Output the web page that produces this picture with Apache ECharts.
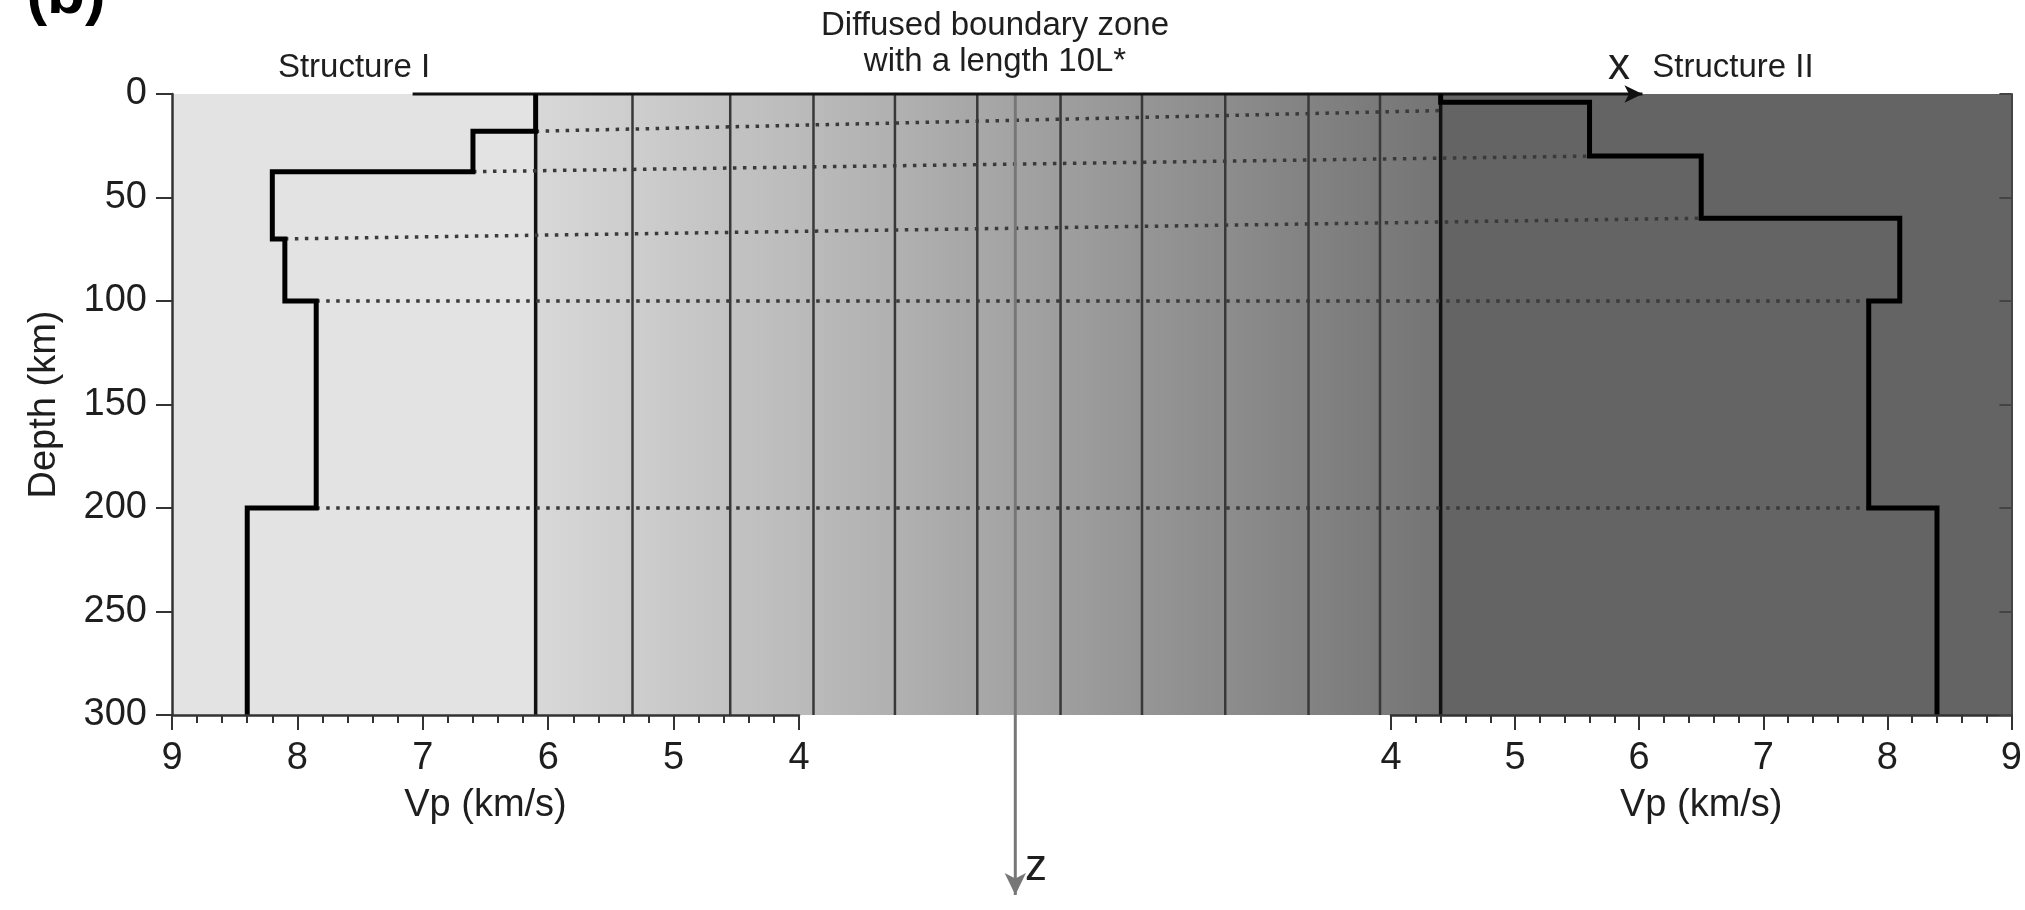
<!DOCTYPE html>
<html>
<head>
<meta charset="utf-8">
<script src="https://cdn.jsdelivr.net/npm/echarts@6/dist/echarts.min.js"></script>
<style>
  html, body { margin: 0; padding: 0; background: #fff; }
  #chart { width: 2025px; height: 910px; }
</style>
</head>
<body>
<div id="chart"></div>
<script>
// depth axis (km) and velocity axes (km/s)
const depthTicks = [0, 50, 100, 150, 200, 250, 300]
const vpTicks = [4, 5, 6, 7, 8, 9]

// Structure I layers: top, bottom (km), Vp (km/s)
const s1Tops = [0, 18, 37.5, 70, 100, 200]
const s1Bottoms = [18, 37.5, 70, 100, 200, 300]
const s1Vp = [6.1, 6.6, 8.2, 8.1, 7.85, 8.4]

// Structure II layers
const s2Tops = [0, 4, 30, 60, 100, 200]
const s2Bottoms = [4, 30, 60, 100, 200, 300]
const s2Vp = [4.4, 5.6, 6.5, 8.1, 7.85, 8.4]

// dotted links between interfaces, [Vp, depth] on each side
const linkLeft = [[6.1, 18], [6.6, 37.5], [8.1, 70], [7.85, 100], [7.85, 200]]
const linkRight = [[4.4, 8], [5.6, 30], [6.5, 60], [7.85, 100], [7.85, 200]]

// diffused zone cell edges, in units of L*
const zoneEdges = [0, 1.07, 2.15, 3.07, 3.97, 4.88, 5.80, 6.70, 7.62, 8.54, 9.33, 10]
const zAxisAt = 5.3
const xArrow = [-1.36, 12.23]
const zArrowEnd = 387

const FONT = "'Liberation Sans', Arial, Helvetica, sans-serif"
const depthMin = depthTicks[0]
const depthMax = depthTicks[depthTicks.length - 1]
const vpMin = vpTicks[0]
const vpMax = vpTicks[vpTicks.length - 1]
const zoneLength = zoneEdges[zoneEdges.length - 1]

// plot box
const plotTop = 94
const plotHeight = 621
const plotLeft = 172
const plotRight = 2016

function stepPoints (tops, bottoms, vp) {
  const pts = []
  tops.forEach((t, i) => {
    pts.push([vp[i], t])
    pts.push([vp[i], bottoms[i]])
  })
  return pts
}

// grey ramp across the zone
function shade (d) {
  const t = Math.max(0, Math.min(1, d / zoneLength))
  const v = Math.round(216 - t * (216 - 116))
  return `rgb(${v},${v},${v})`
}

const axisColor = '#333'
const textColor = '#1e1e1e'

function vpAxis (gridIndex, inverse) {
  return {
    gridIndex: gridIndex,
    type: 'value',
    min: vpMin,
    max: vpMax,
    interval: 1,
    inverse: inverse,
    position: 'bottom',
    z: 6,
    axisLine: { show: true, onZero: false, lineStyle: { color: axisColor, width: 2.5 } },
    axisTick: { show: true, length: 15, lineStyle: { color: axisColor, width: 2 } },
    minorTick: { show: true, splitNumber: 5, length: 8, lineStyle: { color: axisColor, width: 2 } },
    splitLine: { show: false },
    axisLabel: { fontSize: 38, color: textColor, fontFamily: FONT, margin: 25 },
    name: 'Vp (km/s)',
    nameLocation: 'middle',
    nameGap: 72,
    nameTextStyle: { fontSize: 38, color: textColor, fontFamily: FONT }
  }
}

function depthAxis (gridIndex, extra) {
  return Object.assign({
    gridIndex: gridIndex,
    type: 'value',
    min: depthMin,
    max: depthMax,
    interval: 50,
    inverse: true,
    z: 6,
    splitLine: { show: false }
  }, extra)
}

const option = {
  animation: false,
  backgroundColor: '#fff',
  grid: [
    { left: plotLeft, top: plotTop, width: 799 - plotLeft, height: plotHeight },
    { left: 1391, top: plotTop, width: plotRight - 1391, height: plotHeight },
    { left: plotLeft, top: plotTop, width: plotRight - plotLeft, height: plotHeight }
  ],
  xAxis: [
    vpAxis(0, true),
    vpAxis(1, false),
    { gridIndex: 2, type: 'value', min: 0, max: zoneLength, show: false }
  ],
  yAxis: [
    depthAxis(0, {
      position: 'left',
      axisLine: { show: true, onZero: false, lineStyle: { color: axisColor, width: 2.5 } },
      axisTick: { show: true, length: 16, lineStyle: { color: axisColor, width: 2 } },
      axisLabel: { fontSize: 38, color: textColor, fontFamily: FONT, margin: 25 },
      name: 'Depth (km)',
      nameLocation: 'middle',
      nameGap: 108,
      nameRotate: 90,
      nameTextStyle: { fontSize: 38, color: textColor, fontFamily: FONT }
    }),
    depthAxis(1, {
      position: 'right',
      axisLine: { show: true, onZero: false, lineStyle: { color: '#444', width: 2 } },
      axisTick: { show: true, inside: true, length: 12, lineStyle: { color: '#444', width: 2 } },
      axisLabel: { show: false }
    }),
    depthAxis(2, { show: false })
  ],
  series: [
    // light background of structure I
    {
      type: 'custom',
      xAxisIndex: 0,
      yAxisIndex: 0,
      z: 1,
      silent: true,
      data: [[vpMax, s1Vp[0]]],
      renderItem (params, api) {
        const p0 = api.coord([api.value(0), depthMin])
        const p1 = api.coord([api.value(1), depthMax])
        return {
          type: 'rect',
          shape: { x: Math.min(p0[0], p1[0]), y: p0[1], width: Math.abs(p1[0] - p0[0]), height: p1[1] - p0[1] },
          style: { fill: '#e3e3e3' }
        }
      }
    },
    // dark background of structure II
    {
      type: 'custom',
      xAxisIndex: 1,
      yAxisIndex: 1,
      z: 1,
      silent: true,
      data: [[s2Vp[0], vpMax]],
      renderItem (params, api) {
        const p0 = api.coord([api.value(0), depthMin])
        const p1 = api.coord([api.value(1), depthMax])
        return {
          type: 'rect',
          shape: { x: p0[0], y: p0[1], width: p1[0] - p0[0], height: p1[1] - p0[1] },
          style: { fill: '#646464' }
        }
      }
    },
    // diffused zone cells
    {
      type: 'custom',
      xAxisIndex: 2,
      yAxisIndex: 2,
      z: 1,
      silent: true,
      data: zoneEdges.slice(0, -1).map((e, i) => [e, zoneEdges[i + 1]]),
      renderItem (params, api) {
        const a = api.value(0)
        const b = api.value(1)
        const p0 = api.coord([a, depthMin])
        const p1 = api.coord([b, depthMax])
        return {
          type: 'rect',
          shape: { x: p0[0], y: p0[1], width: p1[0] - p0[0] + 0.5, height: p1[1] - p0[1] },
          style: {
            fill: new echarts.graphic.LinearGradient(0, 0, 1, 0, [
              { offset: 0, color: shade(a - 0.08) },
              { offset: 1, color: shade(b + 0.08) }
            ])
          }
        }
      }
    },
    // zone cell edges
    {
      type: 'custom',
      xAxisIndex: 2,
      yAxisIndex: 2,
      z: 2,
      silent: true,
      data: zoneEdges.map(e => [e]),
      renderItem (params, api) {
        const e = api.value(0)
        const p0 = api.coord([e, depthMin])
        const p1 = api.coord([e, depthMax])
        const edge = e === 0 || e === zoneLength
        return {
          type: 'line',
          shape: { x1: p0[0], y1: p0[1], x2: p1[0], y2: p1[1] },
          style: { stroke: edge ? '#111' : '#383838', lineWidth: edge ? 3.5 : 2.5 }
        }
      }
    },
    // z axis arrow
    {
      type: 'line',
      xAxisIndex: 2,
      yAxisIndex: 2,
      z: 4,
      clip: false,
      silent: true,
      lineStyle: { color: '#777', width: 3 },
      itemStyle: { color: '#777' },
      data: [
        { value: [zAxisAt, depthMin], symbol: 'none' },
        { value: [zAxisAt, zArrowEnd], symbol: 'arrow', symbolSize: [16, 22], symbolRotate: 180 }
      ]
    },
    // x axis arrow along the surface
    {
      type: 'line',
      xAxisIndex: 2,
      yAxisIndex: 2,
      z: 5,
      clip: false,
      silent: true,
      lineStyle: { color: '#111', width: 3 },
      itemStyle: { color: '#111' },
      data: [
        { value: [xArrow[0], depthMin], symbol: 'none' },
        { value: [xArrow[1], depthMin], symbol: 'arrow', symbolSize: [13, 18], symbolRotate: -90 }
      ]
    },
    // Structure I profile
    {
      type: 'line',
      xAxisIndex: 0,
      yAxisIndex: 0,
      z: 5,
      symbol: 'none',
      silent: true,
      lineStyle: { color: '#000', width: 5, join: 'miter' },
      data: stepPoints(s1Tops, s1Bottoms, s1Vp)
    },
    // Structure II profile
    {
      type: 'line',
      xAxisIndex: 1,
      yAxisIndex: 1,
      z: 5,
      symbol: 'none',
      silent: true,
      lineStyle: { color: '#000', width: 5, join: 'miter' },
      data: stepPoints(s2Tops, s2Bottoms, s2Vp)
    }
  ]
}

const chart = echarts.init(document.getElementById('chart'))
chart.setOption(option)

// place the zone axis so that 0 and 10L* sit on the two surface velocities
const pxL = chart.convertToPixel({ xAxisIndex: 0 }, s1Vp[0])
const pxR = chart.convertToPixel({ xAxisIndex: 1 }, s2Vp[0])
const unit = (pxR - pxL) / zoneLength

const textStyle = (size, weight) => ({
  font: `${weight || 'normal'} ${size}px ${FONT}`,
  fill: textColor,
  align: 'center',
  verticalAlign: 'middle'
})

const graphics = [
  { type: 'text', x: 66, y: -4, style: Object.assign(textStyle(62, 'bold'), { fill: '#000', text: '(b)' }) },
  { type: 'text', x: 354, y: 68, style: Object.assign(textStyle(33), { text: 'Structure I' }) },
  { type: 'text', x: 1733, y: 68, style: Object.assign(textStyle(33), { text: 'Structure II' }) },
  { type: 'text', x: 995, y: 26, style: Object.assign(textStyle(33), { text: 'Diffused boundary zone' }) },
  { type: 'text', x: 995, y: 62, style: Object.assign(textStyle(33), { text: 'with a length 10L*' }) },
  { type: 'text', x: 1619, y: 67, style: Object.assign(textStyle(44), { text: 'x' }) },
  { type: 'text', x: 1036, y: 868, style: Object.assign(textStyle(44), { text: 'z' }) }
]

linkLeft.forEach((p, i) => {
  const a = chart.convertToPixel({ gridIndex: 0 }, p)
  const b = chart.convertToPixel({ gridIndex: 1 }, linkRight[i])
  graphics.push({
    type: 'line',
    z: 3,
    silent: true,
    shape: { x1: a[0], y1: a[1], x2: b[0], y2: b[1] },
    style: { stroke: '#3a3a3a', lineWidth: 3.5, lineDash: [3.5, 6.5] }
  })
})

chart.setOption({
  xAxis: [{}, {}, {
    min: -(pxL - plotLeft) / unit,
    max: zoneLength + (plotRight - pxR) / unit
  }],
  graphic: { elements: graphics }
})
</script>
</body>
</html>
